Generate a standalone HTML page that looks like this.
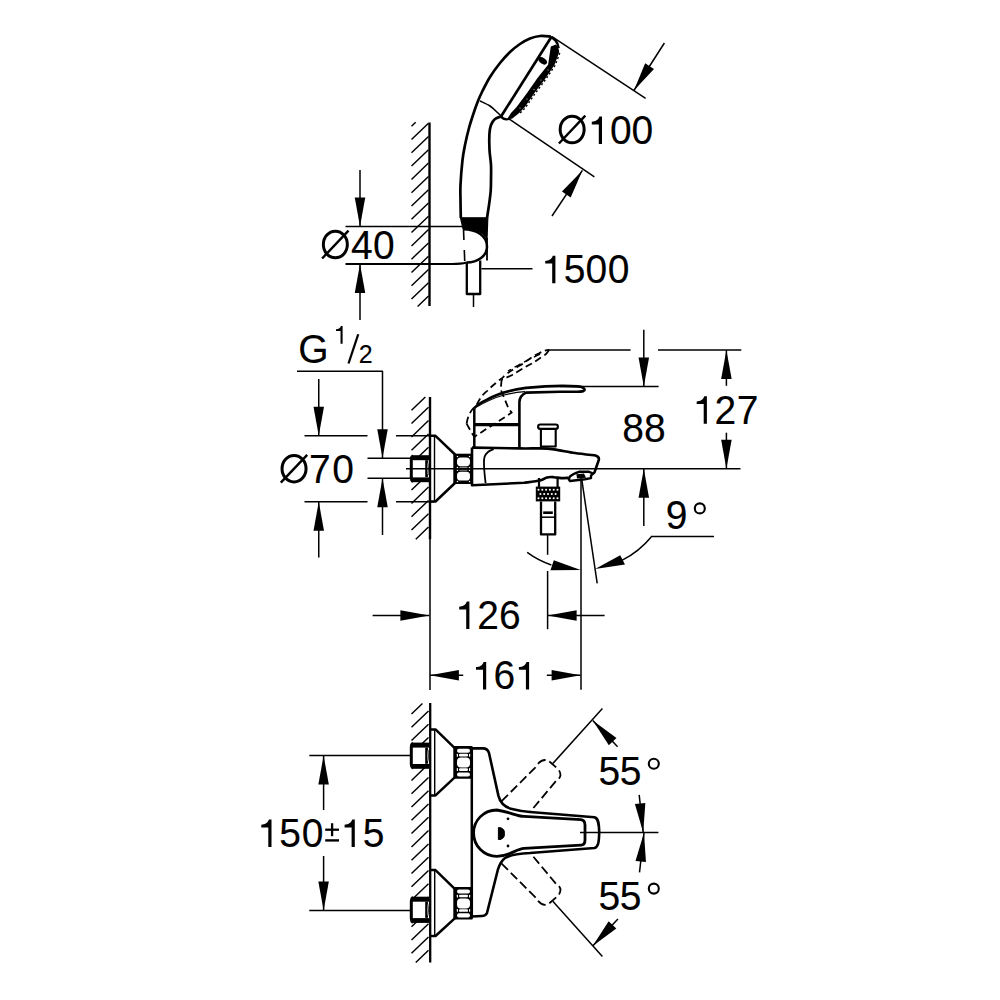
<!DOCTYPE html>
<html><head><meta charset="utf-8"><style>
html,body{margin:0;padding:0;background:#fff;}
svg{display:block;font-family:"Liberation Sans",sans-serif;}
</style></head><body>
<svg width="1000" height="1000" viewBox="0 0 1000 1000" stroke="#000" stroke-linecap="butt" stroke-linejoin="round">
<rect width="1000" height="1000" fill="#fff" stroke="none"/>
<g fill="#000">
<line x1="429.50" y1="122.50" x2="429.50" y2="306.00" stroke-width="2.4"/>
<line x1="411.50" y1="126.20" x2="415.67" y2="122.20" stroke-width="1.45"/>
<line x1="411.50" y1="139.50" x2="428.50" y2="123.20" stroke-width="1.45"/>
<line x1="411.50" y1="152.80" x2="428.50" y2="136.50" stroke-width="1.45"/>
<line x1="411.50" y1="166.10" x2="428.50" y2="149.80" stroke-width="1.45"/>
<line x1="411.50" y1="179.40" x2="428.50" y2="163.10" stroke-width="1.45"/>
<line x1="411.50" y1="192.70" x2="428.50" y2="176.40" stroke-width="1.45"/>
<line x1="411.50" y1="206.00" x2="428.50" y2="189.70" stroke-width="1.45"/>
<line x1="411.50" y1="219.30" x2="428.50" y2="203.00" stroke-width="1.45"/>
<line x1="411.50" y1="232.60" x2="428.50" y2="216.30" stroke-width="1.45"/>
<line x1="411.50" y1="245.90" x2="428.50" y2="229.60" stroke-width="1.45"/>
<line x1="411.50" y1="259.20" x2="428.50" y2="242.90" stroke-width="1.45"/>
<line x1="411.50" y1="272.50" x2="428.50" y2="256.20" stroke-width="1.45"/>
<line x1="411.50" y1="285.80" x2="428.50" y2="269.50" stroke-width="1.45"/>
<line x1="411.50" y1="299.10" x2="428.50" y2="282.80" stroke-width="1.45"/>
<line x1="417.65" y1="306.50" x2="428.50" y2="296.10" stroke-width="1.45"/>
<path d="M551.00,36.50 C549.17,36.42 543.50,35.67 540.00,36.00 C536.50,36.33 533.33,37.17 530.00,38.50 C526.67,39.83 523.33,41.75 520.00,44.00 C516.67,46.25 513.33,48.83 510.00,52.00 C506.67,55.17 503.33,58.83 500.00,63.00 C496.67,67.17 493.00,72.17 490.00,77.00 C487.00,81.83 484.00,88.00 482.00,92.00 C480.00,96.00 479.33,97.67 478.00,101.00 C476.67,104.33 475.50,107.50 474.00,112.00 C472.50,116.50 470.50,122.50 469.00,128.00 C467.50,133.50 466.08,139.67 465.00,145.00 C463.92,150.33 463.25,153.33 462.50,160.00 C461.75,166.67 460.83,178.33 460.50,185.00 C460.17,191.67 460.45,194.50 460.50,200.00 C460.55,205.50 460.75,215.00 460.80,218.00" stroke-width="2.7" fill="none" />
<line x1="551.00" y1="37.50" x2="501.00" y2="116.50" stroke-width="2.7"/>
<path d="M550.5,37 C554,38 558,42 558.6,48" stroke-width="2.4" fill="none" />
<polygon points="550.80,46.40 556.00,44.50 558.20,47.00 559.20,52.00 554.60,64.70 545.60,78.20 534.80,92.60 524.90,107.00 519.20,113.00 512.00,118.80 507.00,119.20 511.00,113.00 516.60,107.00 527.40,92.60 537.30,78.20 548.10,64.70" stroke="none" fill="#000"/>
<path d="M559.8,53 L555.2,65.2 L546.2,78.7 L535.4,93.1 L525.5,107.5 L519.8,113.5" stroke-width="1.4" fill="none" stroke-dasharray="2 2.4"/>
<circle cx="548" cy="70" r="0.5" fill="#fff" stroke="none"/>
<circle cx="541" cy="80" r="0.5" fill="#fff" stroke="none"/>
<circle cx="534" cy="89.5" r="0.5" fill="#fff" stroke="none"/>
<circle cx="527" cy="99" r="0.5" fill="#fff" stroke="none"/>
<circle cx="520" cy="108" r="0.5" fill="#fff" stroke="none"/>
<path d="M501,116.5 C503,119 506,119.8 509,119" stroke-width="2.2" fill="none" />
<ellipse cx="542.7" cy="60.8" rx="4.8" ry="2.9" transform="rotate(35 542.7 60.8)" stroke="none" fill="#000"/>
<path d="M480.00,101.00 C481.67,101.83 487.00,104.00 490.00,106.00 C493.00,108.00 496.00,111.17 498.00,113.00 C500.00,114.83 501.33,116.33 502.00,117.00" stroke-width="1.6" fill="none" />
<path d="M501.00,116.50 C500.00,116.92 496.67,117.58 495.00,119.00 C493.33,120.42 491.93,122.50 491.00,125.00 C490.07,127.50 489.65,129.83 489.40,134.00 C489.15,138.17 489.23,144.83 489.50,150.00 C489.77,155.17 490.75,160.00 491.00,165.00 C491.25,170.00 491.05,175.67 491.00,180.00 C490.95,184.33 491.03,186.83 490.70,191.00 C490.37,195.17 489.62,200.50 489.00,205.00 C488.38,209.50 487.33,215.83 487.00,218.00" stroke-width="2.7" fill="none" />
<path d="M460.5,217.8 L487.8,217.8 L487,240 C485,233 478,230 468,229.3 L463,228.6 Z" stroke-width="1.2" fill="#000" />
<line x1="345.50" y1="226.40" x2="463.00" y2="226.40" stroke-width="1.5"/>
<path d="M345.5,264 L452,264 C459,264 463,263.5 466.5,262.5" stroke-width="2.0" fill="none" />
<path d="M463,229.3 C477,229.5 487,236 487,246.5 C487,256 478,262.5 466.5,262.5" stroke-width="2.5" fill="none" />
<path d="M463.5,229 L464.8,263" stroke-width="1.6" fill="none" stroke-dasharray="11 10"/>
<line x1="487.00" y1="238.00" x2="487.00" y2="260.50" stroke-width="1.8"/>
<polyline points="466.80,262.50 466.80,294.00 480.20,294.00 480.20,260.50" stroke-width="2.3" fill="none"/>
<line x1="473.50" y1="294.00" x2="473.50" y2="307.00" stroke-width="1.5"/>
<line x1="481.50" y1="268.80" x2="532.50" y2="268.80" stroke-width="1.5"/>
<path d="M555.40,283.20 L552.20,283.20 L552.20,263.60 L545.20,263.60 L545.20,260.90 C548.70,260.80 551.70,259.40 552.80,255.80 L555.40,255.80 Z" stroke="none" fill="#000"/>
<text x="0" y="0" transform="translate(563.64,283.20) scale(1,1.025)" font-size="39" stroke="#000" stroke-width="0.12">5</text>
<text x="0" y="0" transform="translate(585.48,283.20) scale(1,1.025)" font-size="39" stroke="#000" stroke-width="0.12">0</text>
<text x="0" y="0" transform="translate(607.78,283.20) scale(1,1.025)" font-size="39" stroke="#000" stroke-width="0.12">0</text>
<line x1="552.00" y1="36.60" x2="645.60" y2="98.30" stroke-width="1.5"/>
<line x1="509.00" y1="118.80" x2="594.40" y2="176.80" stroke-width="1.5"/>
<line x1="664.40" y1="43.00" x2="633.90" y2="90.50" stroke-width="1.5"/>
<polygon points="633.90,90.50 645.15,63.26 653.99,68.93" stroke="none" fill="#000"/>
<line x1="552.00" y1="216.00" x2="582.40" y2="170.40" stroke-width="1.5"/>
<polygon points="582.40,170.40 570.68,197.44 561.95,191.62" stroke="none" fill="#000"/>
<ellipse cx="572.15" cy="129.50" rx="12.0" ry="13.3" stroke-width="3.0" fill="none"/>
<line x1="558.90" y1="143.50" x2="585.30" y2="115.70" stroke-width="2.4"/>
<path d="M602.00,144.00 L598.80,144.00 L598.80,124.40 L591.80,124.40 L591.80,121.70 C595.30,121.60 598.30,120.20 599.40,116.60 L602.00,116.60 Z" stroke="none" fill="#000"/>
<text x="0" y="0" transform="translate(610.08,144.00) scale(1,1.025)" font-size="39" stroke="#000" stroke-width="0.12">0</text>
<text x="0" y="0" transform="translate(631.48,144.00) scale(1,1.025)" font-size="39" stroke="#000" stroke-width="0.12">0</text>
<line x1="360.00" y1="170.00" x2="360.00" y2="226.40" stroke-width="1.5"/>
<polygon points="360.00,226.40 354.75,197.40 365.25,197.40" stroke="none" fill="#000"/>
<line x1="360.00" y1="264.00" x2="360.00" y2="320.00" stroke-width="1.5"/>
<polygon points="360.00,264.00 365.25,293.00 354.75,293.00" stroke="none" fill="#000"/>
<ellipse cx="335.35" cy="244.50" rx="12.0" ry="13.3" stroke-width="3.0" fill="none"/>
<line x1="322.10" y1="258.50" x2="348.50" y2="230.70" stroke-width="2.4"/>
<text x="0" y="0" transform="translate(351.10,259.00) scale(1,1.025)" font-size="39" stroke="#000" stroke-width="0.12">4</text>
<text x="0" y="0" transform="translate(372.98,259.00) scale(1,1.025)" font-size="39" stroke="#000" stroke-width="0.12">0</text>
<line x1="430.00" y1="397.00" x2="430.00" y2="539.20" stroke-width="2.4"/>
<line x1="430.00" y1="539.00" x2="430.00" y2="690.00" stroke-width="1.5"/>
<line x1="411.50" y1="410.30" x2="425.37" y2="397.00" stroke-width="1.45"/>
<line x1="411.50" y1="423.60" x2="428.50" y2="407.30" stroke-width="1.45"/>
<line x1="411.50" y1="436.90" x2="428.50" y2="420.60" stroke-width="1.45"/>
<line x1="411.50" y1="450.20" x2="428.50" y2="433.90" stroke-width="1.45"/>
<line x1="411.50" y1="463.50" x2="428.50" y2="447.20" stroke-width="1.45"/>
<line x1="411.50" y1="476.80" x2="428.50" y2="460.50" stroke-width="1.45"/>
<line x1="411.50" y1="490.10" x2="428.50" y2="473.80" stroke-width="1.45"/>
<line x1="411.50" y1="503.40" x2="428.50" y2="487.10" stroke-width="1.45"/>
<line x1="411.50" y1="516.70" x2="428.50" y2="500.40" stroke-width="1.45"/>
<line x1="411.50" y1="530.00" x2="428.50" y2="513.70" stroke-width="1.45"/>
<line x1="415.78" y1="539.20" x2="428.50" y2="527.00" stroke-width="1.45"/>
<text x="0" y="0" transform="translate(298.24,362.80) scale(1,1.025)" font-size="39" stroke="#000" stroke-width="0.12">G</text>
<path d="M342.61,343.75 L340.53,343.75 L340.53,331.05 L336.00,331.05 L336.00,329.30 C338.27,329.24 340.21,328.33 340.92,326.00 L342.61,326.00 Z" stroke="none" fill="#000"/>
<line x1="348.50" y1="363.50" x2="358.25" y2="334.25" stroke-width="2.3"/>
<text x="0" y="0" transform="translate(358.74,362.75) scale(1,1.025)" font-size="25" stroke="#000" stroke-width="0.12">2</text>
<polyline points="297.00,371.30 382.50,371.30 382.50,458.50" stroke-width="1.5" fill="none"/>
<polygon points="382.50,458.25 377.25,429.25 387.75,429.25" stroke="none" fill="#000"/>
<line x1="382.50" y1="478.25" x2="382.50" y2="535.00" stroke-width="1.5"/>
<polygon points="382.50,478.25 387.75,507.25 377.25,507.25" stroke="none" fill="#000"/>
<line x1="318.75" y1="379.00" x2="318.75" y2="436.00" stroke-width="1.5"/>
<polygon points="318.75,435.80 313.50,406.80 324.00,406.80" stroke="none" fill="#000"/>
<line x1="318.75" y1="501.75" x2="318.75" y2="557.50" stroke-width="1.5"/>
<polygon points="318.75,501.80 324.00,530.80 313.50,530.80" stroke="none" fill="#000"/>
<line x1="304.50" y1="435.80" x2="367.50" y2="435.80" stroke-width="1.5"/>
<line x1="396.00" y1="435.80" x2="434.00" y2="435.80" stroke-width="1.5"/>
<line x1="304.50" y1="501.80" x2="367.50" y2="501.80" stroke-width="1.5"/>
<line x1="396.00" y1="501.80" x2="434.00" y2="501.80" stroke-width="1.5"/>
<line x1="367.50" y1="458.25" x2="410.00" y2="458.25" stroke-width="1.5"/>
<line x1="367.50" y1="478.25" x2="410.00" y2="478.25" stroke-width="1.5"/>
<ellipse cx="294.05" cy="468.70" rx="12.0" ry="13.3" stroke-width="3.0" fill="none"/>
<line x1="280.80" y1="482.70" x2="307.20" y2="454.90" stroke-width="2.4"/>
<text x="0" y="0" transform="translate(309.10,483.20) scale(1,1.025)" font-size="39" stroke="#000" stroke-width="0.12">7</text>
<text x="0" y="0" transform="translate(332.18,483.20) scale(1,1.025)" font-size="39" stroke="#000" stroke-width="0.12">0</text>
<line x1="434.50" y1="436.00" x2="434.50" y2="501.50" stroke-width="1.4"/>
<polyline points="430.00,435.80 435.50,435.80 455.00,454.50 455.00,483.00 435.50,501.50 430.00,501.50" stroke-width="2.5" fill="none"/>
<rect x="453.4" y="453.7" width="19.4" height="30.3" fill="#000" stroke="none"/>
<rect x="457" y="457.4" width="13" height="8.8" rx="3.6" fill="#fff" stroke="none"/>
<rect x="457" y="471.8" width="13" height="8.8" rx="3.6" fill="#fff" stroke="none"/>
<circle cx="457.5" cy="456.5" r="0.75" fill="#fff" stroke="none"/>
<circle cx="469.5" cy="456.5" r="0.75" fill="#fff" stroke="none"/>
<circle cx="457.5" cy="467.5" r="0.75" fill="#fff" stroke="none"/>
<circle cx="469.5" cy="467.5" r="0.75" fill="#fff" stroke="none"/>
<circle cx="457.5" cy="470.3" r="0.75" fill="#fff" stroke="none"/>
<circle cx="469.5" cy="470.3" r="0.75" fill="#fff" stroke="none"/>
<circle cx="457.5" cy="481.5" r="0.75" fill="#fff" stroke="none"/>
<circle cx="469.5" cy="481.5" r="0.75" fill="#fff" stroke="none"/>
<line x1="459.50" y1="467.40" x2="467.50" y2="467.40" stroke="#fff" stroke-width="0.6"/>
<line x1="459.50" y1="470.20" x2="467.50" y2="470.20" stroke="#fff" stroke-width="0.6"/>
<rect x="410.5" y="456.20" width="18" height="25.00" fill="#fff" stroke="none"/>
<rect x="412" y="455.20" width="17" height="5.00" fill="#000" stroke="none"/>
<rect x="412" y="477.40" width="17" height="4.80" fill="#000" stroke="none"/>
<path d="M413,455.70 C411.5,456.70 411.3,458.20 411.3,459.70 L411.3,477.70 C411.3,479.20 411.5,480.70 413,481.70" stroke-width="3.0" fill="none" />
<line x1="426.20" y1="460.20" x2="426.20" y2="477.20" stroke-width="2.0"/>
<path d="M427.2,460.20 C428.6,464.20 428.6,473.20 427.2,477.20" stroke-width="1.0" fill="none" />
<line x1="406.00" y1="468.80" x2="740.50" y2="468.80" stroke-width="1.5"/>
<path d="M472.00,447.60 C480.00,447.73 508.67,448.27 520.00,448.40 C531.33,448.53 534.33,448.23 540.00,448.40 C545.67,448.57 548.17,448.63 554.00,449.40 C559.83,450.17 568.12,452.00 575.00,453.00 C581.88,454.00 591.92,455.00 595.30,455.40 C598,456 599.3,457.5 598.8,460 L596,468 L594.6,472.2 C594,473 593.5,473.4 593,473.5" stroke-width="2.6" fill="none" />
<path d="M472,447.6 L472,485.2 L524,482.8 C526.67,482.43 536.17,481.50 540.00,480.60 C543.83,479.70 544.67,477.97 547.00,477.40 C549.33,476.83 551.67,477.08 554.00,477.20 C556.33,477.32 558.55,478.00 561.00,478.10 C563.45,478.20 567.42,477.85 568.70,477.80" stroke-width="2.6" fill="none" />
<path d="M493.60,449.20 C492.67,449.67 489.52,450.70 488.00,452.00 C486.48,453.30 485.17,454.83 484.50,457.00 C483.83,459.17 483.98,462.17 484.00,465.00 C484.02,467.83 484.33,471.00 484.60,474.00 C484.87,477.00 485.43,481.50 485.60,483.00" stroke-width="1.8" fill="none" />
<path d="M593.2,473.5 L591,475.7 L591,478.1 L584.8,479.2 L570,481 L568.7,479.2 L570,476.4 C572,474.5 575,473 579,471.8 L589,471.8 L593.2,473.5" stroke-width="2.4" fill="none" />
<polygon points="576.40,474.30 584.00,473.60 586.00,477.80 577.00,478.60" stroke="none" fill="#000"/>
<line x1="474.30" y1="408.20" x2="474.30" y2="447.60" stroke-width="2.5"/>
<line x1="474.30" y1="424.70" x2="519.40" y2="424.70" stroke-width="3.3"/>
<path d="M519.4,447 L519.4,402 C519.5,398 521,395 526,392.6 L560,391.7 C570,391.5 580,392.5 583.5,391 C586,389.5 584,387 578,386.4 C565,385.5 550,385.5 526,387.9 C510,390 495,395 487.5,399.4 C482,402 477,405 474.3,408.2" stroke-width="2.6" fill="none" />
<path d="M476.5,407.1 C485,402 495,397.5 504,395 C512,393 518,392 525,391.7" stroke-width="1.2" fill="none" />
<rect x="538.1" y="424.5" width="19.8" height="4.4" rx="2.2" stroke-width="2.1" fill="none"/>
<polyline points="540.90,428.90 540.90,446.50 555.70,446.50 555.70,428.90" stroke-width="2.1" fill="none"/>
<path d="M466.6,423.6 C468,415 471,410 476.5,405 C480,398 483,394 487.5,390.6 C495,383 500,380 504,376.3 C510,371 515,368 520.5,365.3 C528,360 533,356 539.2,353.2 C543,351 546,350 549.1,349.9" stroke-width="1.8" fill="none" stroke-dasharray="7 4"/>
<path d="M549.1,350 C547,353 546,354 545.8,354.3 C540,358 536,361 532.6,363.1 C525,367 518,371.5 511.7,375.2 C508,377 505,378.5 501.6,379.6" stroke-width="1.8" fill="none" stroke-dasharray="7 4"/>
<path d="M540,354 C530,359 520,364 508,371" stroke-width="1.4" fill="none" stroke-dasharray="7 4"/>
<path d="M501.6,379.6 L500.7,389.5 L508.4,408.2 L511.7,412.6 L505,417 L474.3,436.8" stroke-width="1.8" fill="none" stroke-dasharray="7 4"/>
<path d="M466.6,423.6 L472.1,433.5 L474.3,436.8" stroke-width="1.8" fill="none" stroke-dasharray="7 4"/>
<line x1="548.80" y1="350.00" x2="630.60" y2="350.00" stroke-width="1.5"/>
<line x1="658.00" y1="350.00" x2="741.30" y2="350.00" stroke-width="1.5"/>
<line x1="560.00" y1="386.40" x2="658.60" y2="386.40" stroke-width="1.5"/>
<line x1="643.80" y1="329.80" x2="643.80" y2="386.40" stroke-width="1.5"/>
<polygon points="643.80,386.40 638.55,357.40 649.05,357.40" stroke="none" fill="#000"/>
<line x1="643.80" y1="468.80" x2="643.80" y2="526.00" stroke-width="1.5"/>
<polygon points="643.80,468.80 649.05,497.80 638.55,497.80" stroke="none" fill="#000"/>
<line x1="726.40" y1="350.00" x2="726.40" y2="385.80" stroke-width="1.5"/>
<polygon points="726.40,350.00 731.65,379.00 721.15,379.00" stroke="none" fill="#000"/>
<line x1="726.40" y1="432.70" x2="726.40" y2="468.80" stroke-width="1.5"/>
<polygon points="726.40,468.80 721.15,439.80 731.65,439.80" stroke="none" fill="#000"/>
<path d="M706.90,423.70 L703.70,423.70 L703.70,404.10 L696.70,404.10 L696.70,401.40 C700.20,401.30 703.20,399.90 704.30,396.30 L706.90,396.30 Z" stroke="none" fill="#000"/>
<text x="0" y="0" transform="translate(714.54,423.70) scale(1,1.025)" font-size="39" stroke="#000" stroke-width="0.12">2</text>
<text x="0" y="0" transform="translate(736.80,423.70) scale(1,1.025)" font-size="39" stroke="#000" stroke-width="0.12">7</text>
<text x="0" y="0" transform="translate(622.31,441.80) scale(1,1.025)" font-size="39" stroke="#000" stroke-width="0.12">8</text>
<text x="0" y="0" transform="translate(644.01,441.80) scale(1,1.025)" font-size="39" stroke="#000" stroke-width="0.12">8</text>
<text x="0" y="0" transform="translate(665.77,528.90) scale(1,1.025)" font-size="39" stroke="#000" stroke-width="0.12">9</text>
<circle cx="699.8" cy="508.4" r="5.0" stroke-width="2.1" fill="none"/>
<line x1="539.00" y1="478.00" x2="539.00" y2="487.00" stroke-width="2.2"/>
<line x1="557.60" y1="478.00" x2="557.60" y2="487.00" stroke-width="2.2"/>
<rect x="535.8" y="486.6" width="24.4" height="14.8" stroke="none" fill="#000"/>
<circle cx="538.5" cy="489.8" r="1.05" fill="#fff" stroke="none"/>
<circle cx="542.3" cy="489.8" r="1.05" fill="#fff" stroke="none"/>
<circle cx="546.1" cy="489.8" r="1.05" fill="#fff" stroke="none"/>
<circle cx="549.9" cy="489.8" r="1.05" fill="#fff" stroke="none"/>
<circle cx="553.7" cy="489.8" r="1.05" fill="#fff" stroke="none"/>
<circle cx="557.5" cy="489.8" r="1.05" fill="#fff" stroke="none"/>
<circle cx="540.4" cy="494.0" r="1.05" fill="#fff" stroke="none"/>
<circle cx="544.2" cy="494.0" r="1.05" fill="#fff" stroke="none"/>
<circle cx="548.0" cy="494.0" r="1.05" fill="#fff" stroke="none"/>
<circle cx="551.8" cy="494.0" r="1.05" fill="#fff" stroke="none"/>
<circle cx="555.6" cy="494.0" r="1.05" fill="#fff" stroke="none"/>
<circle cx="538.5" cy="498.2" r="1.05" fill="#fff" stroke="none"/>
<circle cx="542.3" cy="498.2" r="1.05" fill="#fff" stroke="none"/>
<circle cx="546.1" cy="498.2" r="1.05" fill="#fff" stroke="none"/>
<circle cx="549.9" cy="498.2" r="1.05" fill="#fff" stroke="none"/>
<circle cx="553.7" cy="498.2" r="1.05" fill="#fff" stroke="none"/>
<circle cx="557.5" cy="498.2" r="1.05" fill="#fff" stroke="none"/>
<polyline points="541.00,501.40 541.00,534.40 555.20,534.40 555.20,501.40" stroke-width="2.3" fill="none"/>
<line x1="541.00" y1="517.20" x2="555.20" y2="517.20" stroke-width="1.5"/>
<rect x="543.2" y="511.4" width="9.6" height="2.6" fill="#000" stroke="none"/>
<line x1="547.60" y1="534.40" x2="547.60" y2="554.80" stroke-width="1.5"/>
<line x1="547.60" y1="571.00" x2="547.60" y2="629.20" stroke-width="1.5"/>
<line x1="581.00" y1="478.00" x2="581.00" y2="689.80" stroke-width="1.5"/>
<line x1="581.80" y1="479.60" x2="597.20" y2="583.40" stroke-width="1.5"/>
<path d="M527.20,552.40 A91,91 0 0 0 551.37,565.04" stroke-width="1.5" fill="none" />
<polygon points="580.68,570.00 550.46,570.28 553.79,560.32" stroke="none" fill="#000"/>
<path d="M622.31,560.08 A91,91 0 0 0 651.19,536.92" stroke-width="1.5" fill="none" />
<polygon points="595.08,568.90 625.00,564.61 620.20,555.27" stroke="none" fill="#000"/>
<line x1="650.80" y1="536.60" x2="714.00" y2="536.60" stroke-width="1.5"/>
<line x1="372.60" y1="615.40" x2="429.40" y2="615.40" stroke-width="1.5"/>
<polygon points="429.40,615.40 400.40,620.65 400.40,610.15" stroke="none" fill="#000"/>
<line x1="547.60" y1="615.40" x2="604.60" y2="615.40" stroke-width="1.5"/>
<polygon points="547.60,615.40 576.60,610.15 576.60,620.65" stroke="none" fill="#000"/>
<path d="M469.40,629.00 L466.20,629.00 L466.20,609.40 L459.20,609.40 L459.20,606.70 C462.70,606.60 465.70,605.20 466.80,601.60 L469.40,601.60 Z" stroke="none" fill="#000"/>
<text x="0" y="0" transform="translate(477.24,629.00) scale(1,1.025)" font-size="39" stroke="#000" stroke-width="0.12">2</text>
<text x="0" y="0" transform="translate(499.02,629.00) scale(1,1.025)" font-size="39" stroke="#000" stroke-width="0.12">6</text>
<line x1="429.90" y1="675.20" x2="463.20" y2="675.20" stroke-width="1.5"/>
<polygon points="429.90,675.20 458.90,669.95 458.90,680.45" stroke="none" fill="#000"/>
<line x1="546.80" y1="675.20" x2="580.60" y2="675.20" stroke-width="1.5"/>
<polygon points="580.60,675.20 551.60,680.45 551.60,669.95" stroke="none" fill="#000"/>
<path d="M486.20,689.40 L483.00,689.40 L483.00,669.80 L476.00,669.80 L476.00,667.10 C479.50,667.00 482.50,665.60 483.60,662.00 L486.20,662.00 Z" stroke="none" fill="#000"/>
<text x="0" y="0" transform="translate(493.52,689.40) scale(1,1.025)" font-size="39" stroke="#000" stroke-width="0.12">6</text>
<path d="M529.10,689.40 L525.90,689.40 L525.90,669.80 L518.90,669.80 L518.90,667.10 C522.40,667.00 525.40,665.60 526.50,662.00 L529.10,662.00 Z" stroke="none" fill="#000"/>
<line x1="430.20" y1="703.00" x2="430.20" y2="962.50" stroke-width="2.3"/>
<line x1="411.50" y1="713.90" x2="422.45" y2="703.40" stroke-width="1.45"/>
<line x1="411.50" y1="727.20" x2="428.50" y2="710.90" stroke-width="1.45"/>
<line x1="411.50" y1="740.50" x2="428.50" y2="724.20" stroke-width="1.45"/>
<line x1="411.50" y1="753.80" x2="428.50" y2="737.50" stroke-width="1.45"/>
<line x1="411.50" y1="767.10" x2="428.50" y2="750.80" stroke-width="1.45"/>
<line x1="411.50" y1="780.40" x2="428.50" y2="764.10" stroke-width="1.45"/>
<line x1="411.50" y1="793.70" x2="428.50" y2="777.40" stroke-width="1.45"/>
<line x1="411.50" y1="807.00" x2="428.50" y2="790.70" stroke-width="1.45"/>
<line x1="411.50" y1="820.30" x2="428.50" y2="804.00" stroke-width="1.45"/>
<line x1="411.50" y1="833.60" x2="428.50" y2="817.30" stroke-width="1.45"/>
<line x1="411.50" y1="846.90" x2="428.50" y2="830.60" stroke-width="1.45"/>
<line x1="411.50" y1="860.20" x2="428.50" y2="843.90" stroke-width="1.45"/>
<line x1="411.50" y1="873.50" x2="428.50" y2="857.20" stroke-width="1.45"/>
<line x1="411.50" y1="886.80" x2="428.50" y2="870.50" stroke-width="1.45"/>
<line x1="411.50" y1="900.10" x2="428.50" y2="883.80" stroke-width="1.45"/>
<line x1="411.50" y1="913.40" x2="428.50" y2="897.10" stroke-width="1.45"/>
<line x1="411.50" y1="926.70" x2="428.50" y2="910.40" stroke-width="1.45"/>
<line x1="411.50" y1="940.00" x2="428.50" y2="923.70" stroke-width="1.45"/>
<line x1="411.50" y1="953.30" x2="428.50" y2="937.00" stroke-width="1.45"/>
<line x1="415.78" y1="962.50" x2="428.50" y2="950.30" stroke-width="1.45"/>
<line x1="434.70" y1="729.40" x2="434.70" y2="795.40" stroke-width="1.4"/>
<polyline points="430.00,729.40 435.50,729.40 455.00,748.30 455.00,777.20 435.50,795.40 430.00,795.40" stroke-width="2.5" fill="none"/>
<rect x="453.4" y="746.10" width="19.6" height="32.60" rx="1.5" fill="#000" stroke="none"/>
<rect x="457" y="748.74" width="13.00" height="3.91" rx="2" fill="#fff" stroke="none"/>
<rect x="459" y="753.83" width="9.00" height="2.64" rx="1.2" fill="#fff" stroke="none"/>
<rect x="457" y="757.55" width="13.00" height="9.98" rx="4" fill="#fff" stroke="none"/>
<rect x="459" y="768.31" width="9.00" height="2.64" rx="1.2" fill="#fff" stroke="none"/>
<rect x="457" y="772.42" width="13.00" height="4.11" rx="2" fill="#fff" stroke="none"/>
<rect x="456.8" y="753.83" width="1.20" height="2.94" rx="0.5" fill="#fff" stroke="none"/>
<rect x="469" y="753.83" width="1.30" height="2.94" rx="0.5" fill="#fff" stroke="none"/>
<rect x="456.8" y="768.02" width="1.20" height="2.94" rx="0.5" fill="#fff" stroke="none"/>
<rect x="469" y="768.02" width="1.30" height="2.94" rx="0.5" fill="#fff" stroke="none"/>
<rect x="410.5" y="743.60" width="18" height="24.20" fill="#fff" stroke="none"/>
<rect x="412" y="742.60" width="17" height="5.00" fill="#000" stroke="none"/>
<rect x="412" y="764.00" width="17" height="4.80" fill="#000" stroke="none"/>
<path d="M413,743.10 C411.5,744.10 411.3,745.60 411.3,747.10 L411.3,764.30 C411.3,765.80 411.5,767.30 413,768.30" stroke-width="3.0" fill="none" />
<line x1="426.20" y1="747.60" x2="426.20" y2="763.80" stroke-width="2.0"/>
<path d="M427.2,747.60 C428.6,751.60 428.6,759.80 427.2,763.80" stroke-width="1.0" fill="none" />
<line x1="434.70" y1="870.10" x2="434.70" y2="936.00" stroke-width="1.4"/>
<polyline points="430.00,870.10 435.50,870.10 455.00,889.10 455.00,918.10 435.50,936.00 430.00,936.00" stroke-width="2.5" fill="none"/>
<rect x="453.4" y="886.90" width="19.6" height="32.70" rx="1.5" fill="#000" stroke="none"/>
<rect x="457" y="889.55" width="13.00" height="3.93" rx="2" fill="#fff" stroke="none"/>
<rect x="459" y="894.65" width="9.00" height="2.65" rx="1.2" fill="#fff" stroke="none"/>
<rect x="457" y="898.38" width="13.00" height="10.01" rx="4" fill="#fff" stroke="none"/>
<rect x="459" y="909.18" width="9.00" height="2.65" rx="1.2" fill="#fff" stroke="none"/>
<rect x="457" y="913.30" width="13.00" height="4.12" rx="2" fill="#fff" stroke="none"/>
<rect x="456.8" y="894.65" width="1.20" height="2.94" rx="0.5" fill="#fff" stroke="none"/>
<rect x="469" y="894.65" width="1.30" height="2.94" rx="0.5" fill="#fff" stroke="none"/>
<rect x="456.8" y="908.89" width="1.20" height="2.94" rx="0.5" fill="#fff" stroke="none"/>
<rect x="469" y="908.89" width="1.30" height="2.94" rx="0.5" fill="#fff" stroke="none"/>
<rect x="410.5" y="897.70" width="18" height="24.20" fill="#fff" stroke="none"/>
<rect x="412" y="896.70" width="17" height="5.00" fill="#000" stroke="none"/>
<rect x="412" y="918.10" width="17" height="4.80" fill="#000" stroke="none"/>
<path d="M413,897.20 C411.5,898.20 411.3,899.70 411.3,901.20 L411.3,918.40 C411.3,919.90 411.5,921.40 413,922.40" stroke-width="3.0" fill="none" />
<line x1="426.20" y1="901.70" x2="426.20" y2="917.90" stroke-width="2.0"/>
<path d="M427.2,901.70 C428.6,905.70 428.6,913.90 427.2,917.90" stroke-width="1.0" fill="none" />
<line x1="309.30" y1="755.60" x2="410.00" y2="755.60" stroke-width="1.5"/>
<line x1="309.30" y1="910.50" x2="410.00" y2="910.50" stroke-width="1.5"/>
<line x1="323.60" y1="755.60" x2="323.60" y2="810.00" stroke-width="1.5"/>
<polygon points="323.60,755.60 328.85,784.60 318.35,784.60" stroke="none" fill="#000"/>
<line x1="323.60" y1="856.00" x2="323.60" y2="910.50" stroke-width="1.5"/>
<polygon points="323.60,910.50 318.35,881.50 328.85,881.50" stroke="none" fill="#000"/>
<path d="M271.50,847.00 L268.30,847.00 L268.30,827.40 L261.30,827.40 L261.30,824.70 C264.80,824.60 267.80,823.20 268.90,819.60 L271.50,819.60 Z" stroke="none" fill="#000"/>
<text x="0" y="0" transform="translate(279.34,847.00) scale(1,1.025)" font-size="39" stroke="#000" stroke-width="0.12">5</text>
<text x="0" y="0" transform="translate(301.78,847.00) scale(1,1.025)" font-size="39" stroke="#000" stroke-width="0.12">0</text>
<line x1="325.20" y1="829.70" x2="339.00" y2="829.70" stroke-width="2.3"/>
<line x1="332.10" y1="823.20" x2="332.10" y2="836.20" stroke-width="2.3"/>
<line x1="325.20" y1="840.40" x2="339.00" y2="840.40" stroke-width="2.4"/>
<path d="M354.80,847.00 L351.60,847.00 L351.60,827.40 L344.60,827.40 L344.60,824.70 C348.10,824.60 351.10,823.20 352.20,819.60 L354.80,819.60 Z" stroke="none" fill="#000"/>
<text x="0" y="0" transform="translate(362.64,847.00) scale(1,1.025)" font-size="39" stroke="#000" stroke-width="0.12">5</text>
<line x1="471.80" y1="748.00" x2="471.80" y2="916.50" stroke-width="2.5"/>
<path d="M471.8,748.4 L483,748.4 C486,748.4 488,750 489,753 L498.4,795.6 C500,802 504,807 512,809 C518,810.5 524,811.6 530,812 L594.4,817.2 C598,818 599,822 599.2,832.4 C599,843 598,847 594.4,848 L530,853 C518,853.5 510,855 505,858 C500,862 499,866 497.8,870 L487,913 C486,915 484,916 482,916 L471.8,916.5" stroke-width="2.6" fill="none" />
<path d="M496.8,810 C510,812 516,816 524,816.4 L581,819.6 C584,820 585,822 585,825 L585,840 C585,843 584,845 581,845.2 L524,848.4 C516,849 510,856 496.8,856.4 C484,856.4 473.6,846 473.6,833 C473.6,820 484,810 496.8,810 Z" stroke-width="2.8" fill="none" />
<path d="M498.4,827.6 C503,827.6 504.5,830 504.5,833.6 C504.5,837 503,839.6 498.4,839.6 Z" stroke-width="1" fill="#000" />
<circle cx="508" cy="818.8" r="1.4" fill="#000" stroke="none"/>
<circle cx="508" cy="846" r="1.4" fill="#000" stroke="none"/>
<line x1="580.00" y1="832.40" x2="658.40" y2="832.40" stroke-width="1.5"/>
<path d="M501.6,801.2 L535.2,767.6 C540,760.0 545,758.0 550,762.0 L558,769.0 C562,774.0 561,778.0 556,781.0 L530.4,811.6" stroke-width="1.8" fill="none" stroke-dasharray="9 4"/>
<line x1="552.80" y1="763.60" x2="602.40" y2="708.40" stroke-width="1.5"/>
<path d="M501.6,863.5999999999999 L535.2,897.1999999999999 C540,904.8 545,906.8 550,902.8 L558,895.8 C562,890.8 561,886.8 556,883.8 L530.4,853.1999999999999" stroke-width="1.8" fill="none" stroke-dasharray="9 4"/>
<line x1="552.80" y1="901.20" x2="602.40" y2="956.40" stroke-width="1.5"/>
<line x1="617.60" y1="746.80" x2="592.80" y2="720.40" stroke-width="1.5"/>
<polygon points="592.80,720.40 616.48,737.94 608.83,745.13" stroke="none" fill="#000"/>
<line x1="639.20" y1="794.80" x2="643.20" y2="832.40" stroke-width="1.5"/>
<polygon points="643.20,832.40 634.91,804.12 645.35,803.01" stroke="none" fill="#000"/>
<line x1="639.50" y1="872.30" x2="644.00" y2="832.70" stroke-width="1.5"/>
<polygon points="644.00,832.70 645.94,862.11 635.51,860.92" stroke="none" fill="#000"/>
<line x1="617.90" y1="919.10" x2="592.70" y2="946.10" stroke-width="1.5"/>
<polygon points="592.70,946.10 608.65,921.32 616.33,928.48" stroke="none" fill="#000"/>
<text x="0" y="0" transform="translate(598.44,785.00) scale(1,1.025)" font-size="39" stroke="#000" stroke-width="0.12">5</text>
<text x="0" y="0" transform="translate(619.84,785.00) scale(1,1.025)" font-size="39" stroke="#000" stroke-width="0.12">5</text>
<circle cx="653.8" cy="763.8" r="5.0" stroke-width="2.1" fill="none"/>
<text x="0" y="0" transform="translate(598.44,910.00) scale(1,1.025)" font-size="39" stroke="#000" stroke-width="0.12">5</text>
<text x="0" y="0" transform="translate(619.84,910.00) scale(1,1.025)" font-size="39" stroke="#000" stroke-width="0.12">5</text>
<circle cx="653.8" cy="888.6" r="5.0" stroke-width="2.1" fill="none"/>
</g>
</svg></body></html>
